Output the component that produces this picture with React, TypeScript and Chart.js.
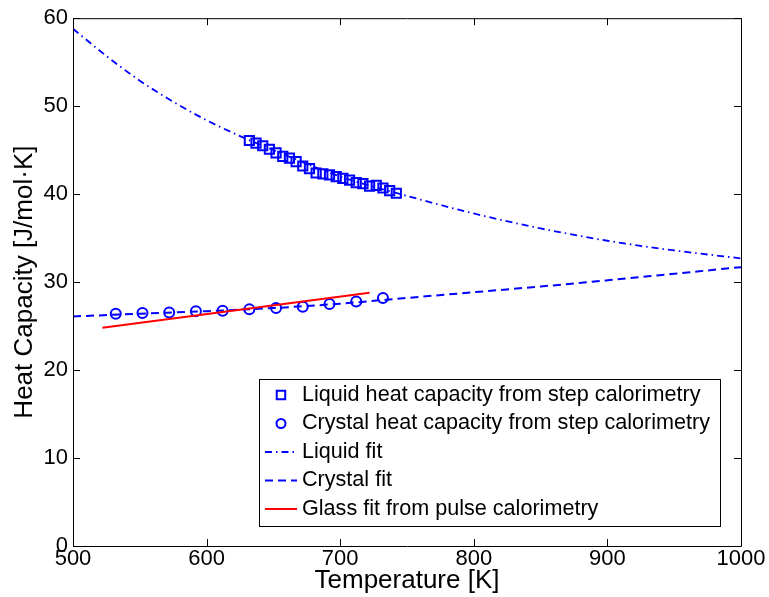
import React, { useEffect, useRef } from "react";
import { Chart, registerables } from "chart.js";

Chart.register(...registerables);

// ---- data ----
const liquidT = [632, 637, 642, 647, 652, 657, 662, 667, 672, 677, 682, 687, 692, 697, 702, 707, 712, 717, 722, 727, 732, 737, 742];
const liquidCp = [46.1, 45.8, 45.5, 45.1, 44.7, 44.3, 44.1, 43.7, 43.2, 42.9, 42.4, 42.3, 42.2, 42.0, 41.8, 41.6, 41.3, 41.2, 40.9, 41.0, 40.7, 40.4, 40.1];

const crystalT = [532, 552, 572, 592, 612, 632, 652, 672, 692, 712, 732];
const crystalCp = [26.4, 26.5, 26.55, 26.7, 26.75, 26.9, 27.05, 27.2, 27.5, 27.8, 28.2];

const liquidFitT = [500, 525, 550, 575, 600, 625, 650, 700, 750, 800, 850, 900, 950, 1000];
const liquidFitCp = [58.8, 55.7, 52.9, 50.5, 48.4, 46.6, 45.0, 42.0, 39.8, 37.8, 36.1, 34.7, 33.6, 32.7];

const crystalFitT = [500, 550, 600, 650, 700, 750, 800, 850, 900, 950, 1000];
const crystalFitCp = [26.1, 26.4, 26.7, 27.05, 27.55, 28.2, 28.85, 29.5, 30.2, 30.95, 31.7];

const glassFitT = [522, 722];
const glassFitCp = [24.8, 28.8];

const seriesLabels = [
  "Liquid heat capacity from step calorimetry",
  "Crystal heat capacity from step calorimetry",
  "Liquid fit",
  "Crystal fit",
  "Glass fit from pulse calorimetry",
];

const xTicks = [500, 600, 700, 800, 900, 1000];
const yTicks = [0, 10, 20, 30, 40, 50, 60];
const xTitle = "Temperature [K]";
const yTitle = "Heat Capacity [J/mol\u00b7K]";

const BLUE = "rgb(0,0,255)";
const RED = "rgb(255,0,0)";
const FONT = "'Liberation Sans', Arial, Helvetica, sans-serif";

const zip = (xs: number[], ys: number[]) => xs.map((x, i) => ({ x, y: ys[i] }));

const framePlugin = {
  id: "matlabFrame",
  afterDraw(chart: any) {
    const { ctx, chartArea: a, scales } = chart;
    const tl = 7;
    ctx.save();
    ctx.strokeStyle = "#000";
    ctx.lineWidth = 1;
    ctx.beginPath();
    ctx.rect(a.left + 0.5, a.top + 0.5, a.right - a.left, a.bottom - a.top);
    ctx.stroke();
    ctx.beginPath();
    xTicks.forEach((t) => {
      const px = Math.round(scales.x.getPixelForValue(t)) + 0.5;
      ctx.moveTo(px, a.bottom);
      ctx.lineTo(px, a.bottom - tl);
      ctx.moveTo(px, a.top);
      ctx.lineTo(px, a.top + tl);
    });
    yTicks.forEach((t) => {
      const py = Math.round(scales.y.getPixelForValue(t)) + 0.5;
      ctx.moveTo(a.left, py);
      ctx.lineTo(a.left + tl, py);
      ctx.moveTo(a.right, py);
      ctx.lineTo(a.right - tl, py);
    });
    ctx.stroke();

    // legend box
    ctx.font = `21.6px ${FONT}`;
    const ds = chart.data.datasets;
    let maxW = 0;
    ds.forEach((d: any) => {
      maxW = Math.max(maxW, ctx.measureText(d.label).width);
    });
    const rowH = 28.5;
    const textOff = 43;
    const w = textOff + maxW + 10;
    const h = 16 + rowH * (ds.length - 1) + 17;
    const bx = a.right - 21 - w;
    const by = a.bottom - 20 - h;
    ctx.fillStyle = "#fff";
    ctx.fillRect(bx, by, w, h);
    ctx.strokeStyle = "#000";
    ctx.lineWidth = 1;
    ctx.strokeRect(Math.round(bx) + 0.5, Math.round(by) + 0.5, Math.round(w), Math.round(h));
    ds.forEach((d: any, i: number) => {
      const cy = by + 16 + i * rowH;
      const x0 = bx + 6;
      const x1 = bx + 38;
      const cx = (x0 + x1) / 2;
      ctx.save();
      ctx.strokeStyle = d.borderColor;
      ctx.lineWidth = d.borderWidth;
      if (d.showLine) {
        ctx.setLineDash(d.borderDash || []);
        ctx.beginPath();
        ctx.moveTo(x0, cy);
        ctx.lineTo(x1, cy);
        ctx.stroke();
      } else if (d.pointStyle === "rect") {
        const s = Math.SQRT1_2 * (d.pointRadius - 0.5);
        ctx.strokeRect(cx - s, cy - s, 2 * s, 2 * s);
      } else {
        ctx.beginPath();
        ctx.arc(cx, cy, d.pointRadius - 0.5, 0, Math.PI * 2);
        ctx.stroke();
      }
      ctx.restore();
      ctx.fillStyle = "#000";
      ctx.textBaseline = "middle";
      ctx.textAlign = "left";
      ctx.fillText(d.label, bx + textOff, cy);
    });
    ctx.restore();
  },
};

export default function App() {
  const ref = useRef<HTMLCanvasElement | null>(null);
  useEffect(() => {
    document.body.style.margin = "0";
    const canvas = ref.current!;
    const chart = new Chart(canvas, {
      type: "scatter",
      data: {
        datasets: [
          {
            label: seriesLabels[0],
            data: zip(liquidT, liquidCp),
            pointStyle: "rect",
            pointRadius: 6.5,
            pointBorderWidth: 2,
            borderWidth: 2,
            borderColor: BLUE,
            pointBorderColor: BLUE,
            backgroundColor: "rgba(0,0,0,0)",
            pointBackgroundColor: "rgba(0,0,0,0)",
            showLine: false,
            order: 5,
          },
          {
            label: seriesLabels[1],
            data: zip(crystalT, crystalCp),
            pointStyle: "circle",
            pointRadius: 5,
            pointBorderWidth: 2,
            borderWidth: 2,
            borderColor: BLUE,
            pointBorderColor: BLUE,
            backgroundColor: "rgba(0,0,0,0)",
            pointBackgroundColor: "rgba(0,0,0,0)",
            showLine: false,
            order: 4,
          },
          {
            label: seriesLabels[2],
            data: zip(liquidFitT, liquidFitCp),
            showLine: true,
            pointRadius: 0,
            borderColor: BLUE,
            borderWidth: 1.8,
            borderDash: [7, 4, 1.5, 4],
            tension: 0.4,
            cubicInterpolationMode: "monotone",
            order: 3,
          },
          {
            label: seriesLabels[3],
            data: zip(crystalFitT, crystalFitCp),
            showLine: true,
            pointRadius: 0,
            borderColor: BLUE,
            borderWidth: 2,
            borderDash: [8, 5],
            tension: 0.4,
            cubicInterpolationMode: "monotone",
            order: 2,
          },
          {
            label: seriesLabels[4],
            data: zip(glassFitT, glassFitCp),
            showLine: true,
            pointRadius: 0,
            borderColor: RED,
            borderWidth: 2,
            order: 1,
          },
        ],
      } as any,
      options: {
        animation: false,
        responsive: false,
        devicePixelRatio: 1,
        layout: { padding: { left: 0, top: 16, right: 28, bottom: 0 } },
        plugins: { legend: { display: false }, tooltip: { enabled: false } },
        scales: {
          x: {
            type: "linear",
            min: 500,
            max: 1000,
            afterBuildTicks: (s: any) => {
              s.ticks = xTicks.map((v) => ({ value: v }));
            },
            afterFit: (s: any) => {
              s.height = 51;
            },
            grid: { display: false, drawTicks: false },
            border: { display: false },
            ticks: {
              color: "#000",
              font: { family: FONT, size: 22 },
              padding: 0,
              maxRotation: 0,
              autoSkip: false,
              callback: (v: any) => String(v),
            },
            title: {
              display: true,
              text: xTitle,
              color: "#000",
              font: { family: FONT, size: 26 },
              padding: { top: 0, bottom: 1 },
            },
          },
          y: {
            type: "linear",
            min: 0,
            max: 60,
            afterBuildTicks: (s: any) => {
              s.ticks = yTicks.map((v) => ({ value: v }));
            },
            afterFit: (s: any) => {
              s.width = 73;
            },
            grid: { display: false, drawTicks: false },
            border: { display: false },
            ticks: {
              color: "#000",
              font: { family: FONT, size: 22 },
              padding: 5,
              autoSkip: false,
              callback: (v: any) => String(v),
            },
            title: {
              display: true,
              text: yTitle,
              color: "#000",
              font: { family: FONT, size: 26 },
              padding: { top: 9, bottom: 0 },
            },
          },
        },
      } as any,
      plugins: [framePlugin],
    });
    return () => chart.destroy();
  }, []);
  return <canvas ref={ref} width={769} height={597} style={{ display: "block" }} />;
}
